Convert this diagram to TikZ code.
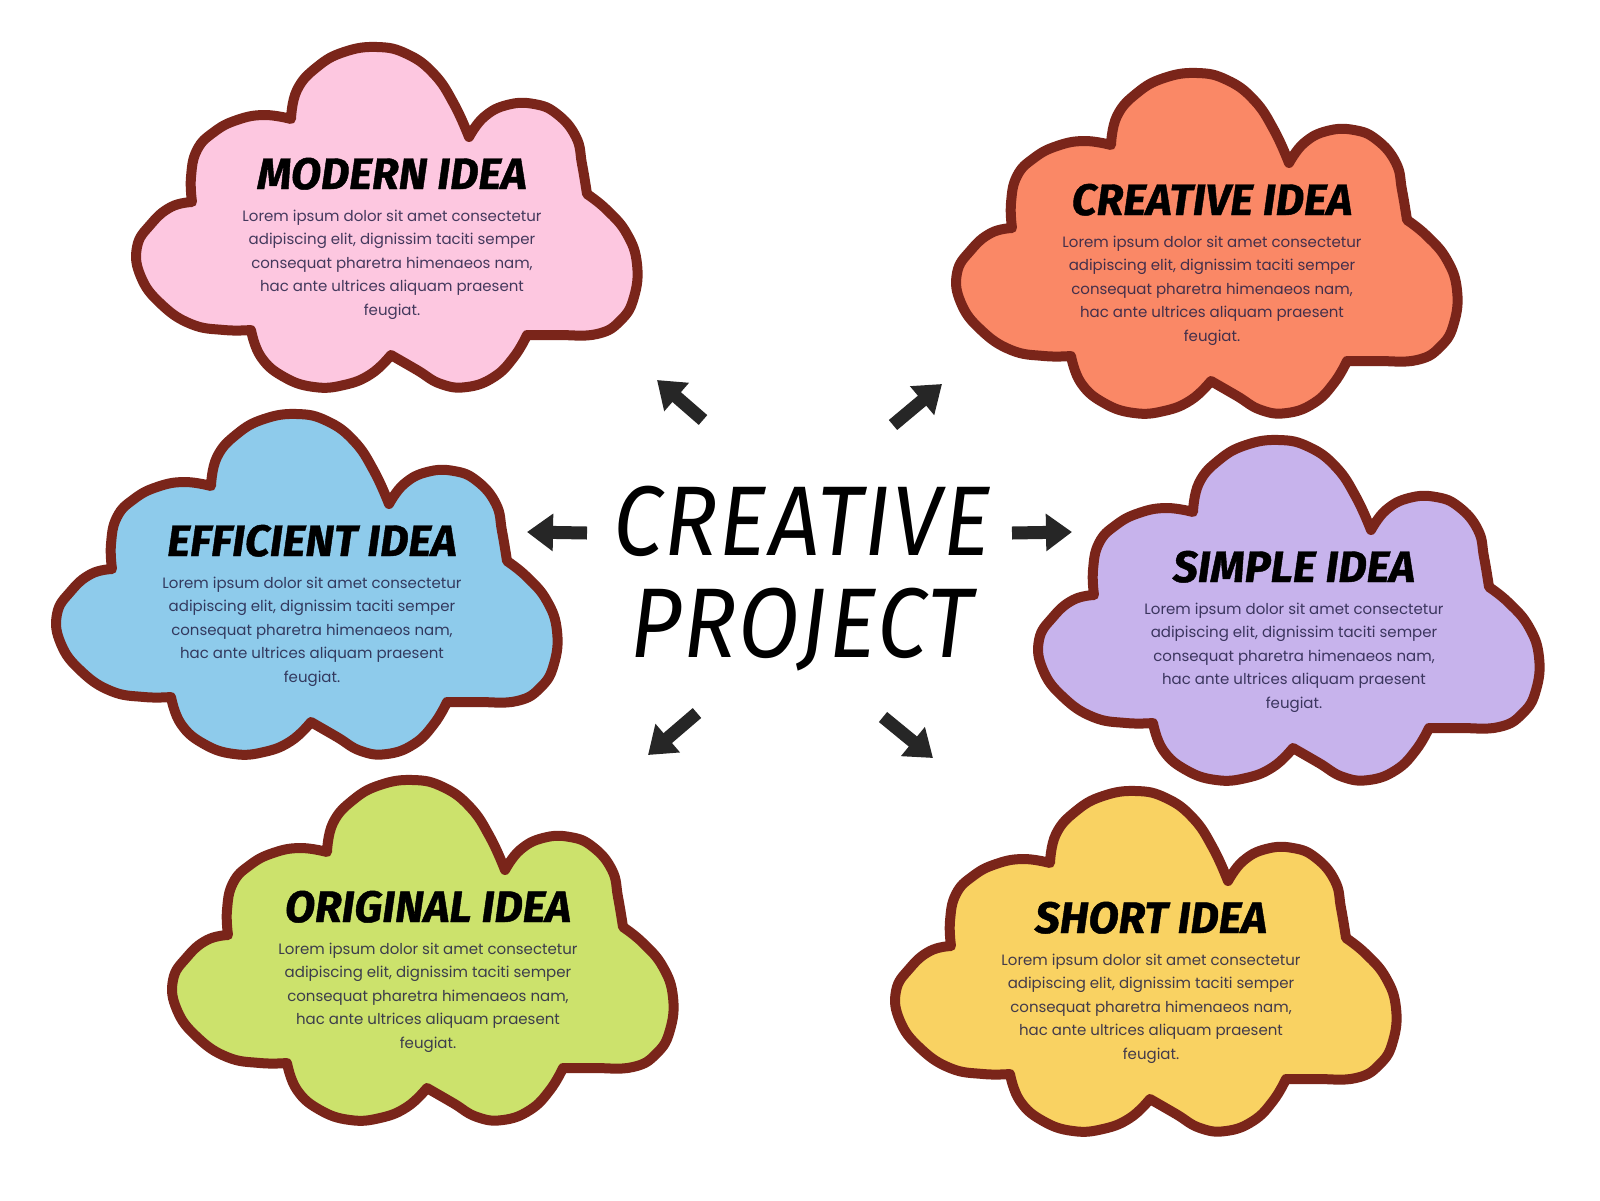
\documentclass[tikz,border=0pt]{standalone}
\usepackage{fontspec}
\usetikzlibrary{arrows.meta}
\setmainfont{Poppins}
\newfontfamily\headfont{Fira Sans}[FakeBold=1]
\newfontfamily\bigfont{Fira Sans}[FakeStretch=0.9,LetterSpace=2]
\definecolor{rim}{RGB}{122,37,26}
\definecolor{ink}{RGB}{35,32,70}
\definecolor{pencil}{RGB}{38,38,38}
\definecolor{blush}{RGB}{253,199,224}
\definecolor{salmon}{RGB}{250,136,102}
\definecolor{sky}{RGB}{142,203,235}
\definecolor{lilac}{RGB}{199,179,236}
\definecolor{lime}{RGB}{204,226,108}
\definecolor{sun}{RGB}{249,210,98}
\newcommand\lorem{Lorem ipsum dolor sit amet consectetur\\adipiscing elit, dignissim taciti semper\\consequat pharetra himenaeos nam,\\hac ante ultrices aliquam praesent\\feugiat.}
\begin{document}
\begin{tikzpicture}
	[	x=1pt,y=-1pt,
	cloud/.pic={\path[pic actions] (-96,-100)
		-- plot[smooth,tension=0.75] coordinates {(-96,-100) (-90,-129) (-70,-152) (-43,-167) (-10,-172) (20,-165) (47,-145) (67,-115) (82,-82)}
		-- plot[smooth,tension=0.75] coordinates {(82,-82) (97,-102) (120,-114) (147,-115) (170,-105) (189,-82) (195,-55) (200,-25)}
		-- plot[smooth,tension=0.75] coordinates {(200,-25) (220,-9) (240,15) (250,45) (247,78) (234,101) (210,115) (170,116) (140,116)}
		-- plot[smooth,tension=0.75] coordinates {(140,116) (127,138) (107,158) (80,168) (54,165) (30,151) (4,136)}
		-- plot[smooth,tension=0.75] coordinates {(4,136) (-16,155) (-43,166) (-73,168) (-103,158) (-126,138) (-136,111)}
		-- plot[smooth,tension=0.75] coordinates {(-136,111) (-163,111) (-196,105) (-226,85) (-246,58) (-250,28) (-236,5) (-216,-12) (-195,-17)}
		-- plot[smooth,tension=0.75] coordinates {(-195,-17) (-196,-42) (-190,-69) (-173,-87) (-150,-99) (-123,-104) (-96,-100)}
		-- cycle;},
	rimline/.style={draw=rim,line width=10pt,line join=round},
	headline/.style={font=\headfont\bfseries\itshape\fontsize{44}{44}\selectfont,anchor=base,inner sep=0pt},
	blurb/.style={font=\fontsize{15}{23.5}\selectfont,text=ink,text opacity=0.85,align=center,anchor=base,inner sep=0pt},
	sketch/.style={draw=pencil,line width=13pt,-{Triangle[width=36pt,length=26pt]}}
	]
	\fill[white] (0,0) rectangle (1600,1200);
	\useasboundingbox (0,0) rectangle (1600,1200);

	\pic[rimline,fill=blush] at (387,219) {cloud};
	\pic[rimline,fill=salmon] at (1207,245) {cloud};
	\pic[rimline,fill=sky] at (307,586) {cloud};
	\pic[rimline,fill=lilac] at (1289,612) {cloud};
	\pic[rimline,fill=lime] at (423,952) {cloud};
	\pic[rimline,fill=sun] at (1146,963) {cloud};

	% titles sit on their baseline, texts on the baseline of the last line
	\node[headline] (modern) at (392,189) {MODERN IDEA};
	\node[blurb] (modern-text) at (392,315) {\lorem};
	\node[headline] (creative) at (1212,215) {CREATIVE IDEA};
	\node[blurb] (creative-text) at (1212,341) {\lorem};
	\node[headline] (efficient) at (312,556) {EFFICIENT IDEA};
	\node[blurb] (efficient-text) at (312,682) {\lorem};
	\node[headline] (simple) at (1294,582) {SIMPLE IDEA};
	\node[blurb] (simple-text) at (1294,708) {\lorem};
	\node[headline] (original) at (428,922) {ORIGINAL IDEA};
	\node[blurb] (original-text) at (428,1048) {\lorem};
	\node[headline] (short) at (1151,933) {SHORT IDEA};
	\node[blurb] (short-text) at (1151,1059) {\lorem};

	\node[font=\bigfont\itshape\fontsize{99}{102}\selectfont,align=center,anchor=base,inner sep=0pt] (project) at (802,657) {CREATIVE\\PROJECT};

	\coordinate (ul-tail) at (703,420);
	\coordinate (ul-head) at (657,380);
	\coordinate (ur-tail) at (893,425);
	\coordinate (ur-head) at (942,384);
	\coordinate (lt-tail) at (587,533);
	\coordinate (lt-head) at (527,532);
	\coordinate (rt-tail) at (1012,533);
	\coordinate (rt-head) at (1072,532);
	\coordinate (dl-tail) at (697,713);
	\coordinate (dl-head) at (648,755);
	\coordinate (dr-tail) at (883,717);
	\coordinate (dr-head) at (933,758);
	\draw[sketch] (ul-tail) -- (ul-head);
	\draw[sketch] (ur-tail) -- (ur-head);
	\draw[sketch] (lt-tail) -- (lt-head);
	\draw[sketch] (rt-tail) -- (rt-head);
	\draw[sketch] (dl-tail) -- (dl-head);
	\draw[sketch] (dr-tail) -- (dr-head);
\end{tikzpicture}
\end{document}
